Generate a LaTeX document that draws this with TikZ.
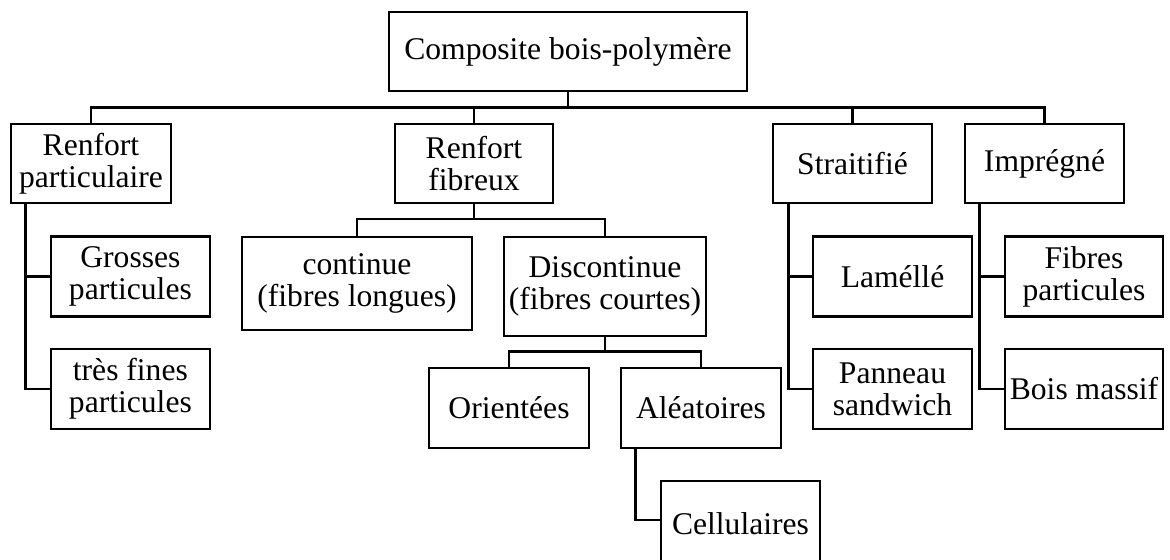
\documentclass[tikz,border=0pt]{standalone}
\usepackage{fontspec}
\setmainfont{Liberation Serif}
\begin{document}
\begin{tikzpicture}[x=0.5pt,y=-0.5pt,
  box/.style={draw,line width=1.3pt,inner sep=0pt,align=center,
    font=\fontsize{15.8}{16}\selectfont},
  link/.style={line width=1.3pt}]
\useasboundingbox (0,0) rectangle (1170,559);
% level 0
\node[box,minimum width=179pt,minimum height=39.5pt] (root) at (568,51.5) {Composite bois-polymère};
% level 1
\node[box,minimum width=80pt,minimum height=39.5pt] (rp) at (91,163.5) {Renfort\\particulaire};
\node[box,minimum width=79pt,minimum height=39.5pt] (rf) at (474,163.5) {Renfort\\fibreux};
\node[box,minimum width=79.5pt,minimum height=39.5pt] (st) at (852.5,163.5) {Straitifié};
\node[box,minimum width=79.5pt,minimum height=39.5pt] (im) at (1044.5,163.5) {Imprégné};
% level 2
\node[box,minimum width=79.6pt,minimum height=40pt] (gr) at (130.4,276.7) {Grosses\\particules};
\node[box,minimum width=79.6pt,minimum height=40pt] (tf) at (130.4,389) {très fines\\particules};
\node[box,minimum width=115pt,minimum height=46.5pt] (co) at (357,283.4) {continue\\(fibres longues)};
\node[box,minimum width=101pt,minimum height=49.5pt] (di) at (605,286.4) {Discontinue\\(fibres courtes)};
\node[box,minimum width=79.5pt,minimum height=40pt] (la) at (892.5,276.7) {Laméllé};
\node[box,minimum width=79.5pt,minimum height=40pt] (pa) at (892.5,389) {Panneau\\sandwich};
\node[box,minimum width=79pt,minimum height=40pt] (fi) at (1084,276.7) {Fibres\\particules};
\node[box,minimum width=79pt,minimum height=40pt] (bm) at (1084,389) {Bois massif};
% level 3
\node[box,minimum width=80pt,minimum height=40pt] (or) at (509,408) {Orientées};
\node[box,minimum width=80pt,minimum height=40pt] (al) at (701,408) {Aléatoires};
\node[box,minimum width=79.5pt,minimum height=43pt] (ce) at (740.5,524) {Cellulaires};
% bus coordinates
\coordinate (b1) at (568,107.3);
\coordinate (b2) at (474,219);
\coordinate (b3) at (605,351.7);
\coordinate (cetick) at (740.5,520);
% connectors
\draw[link] (root.south) -- (b1);
\draw[link] (rp.north) |- (b1) -| (im.north);
\draw[link] (rf.north) -- (rf.north |- b1);
\draw[link] (st.north) -- (st.north |- b1);
\draw[link] (rf.south) -- (b2);
\draw[link] (co.north) |- (b2) -| (di.north);
\draw[link] (di.south) -- (b3);
\draw[link] (or.north) |- (b3) -| (al.north);
\draw[link] ([xshift=7.85pt]rp.south west) |- (gr.west);
\draw[link] ([xshift=7.85pt]rp.south west) |- (tf.west);
\draw[link] ([xshift=8.5pt]st.south west) |- (la.west);
\draw[link] ([xshift=8.5pt]st.south west) |- (pa.west);
\draw[link] ([xshift=8pt]im.south west) |- (fi.west);
\draw[link] ([xshift=8pt]im.south west) |- (bm.west);
\draw[link] ([xshift=8pt]al.south west) |- (ce.west |- cetick);
\end{tikzpicture}
\end{document}
